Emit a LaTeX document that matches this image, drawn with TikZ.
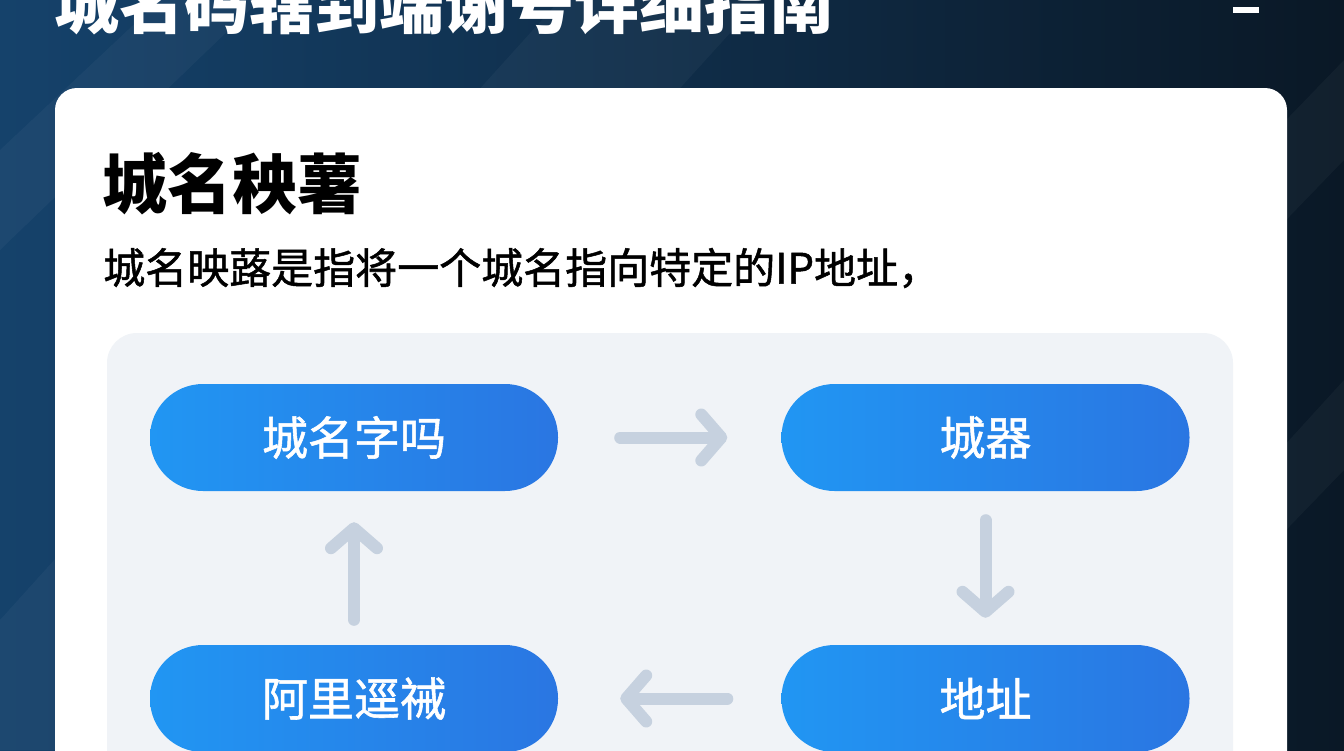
\documentclass[tikz,border=0pt]{standalone}
\usepackage{fontspec}
\setmainfont{Noto Sans CJK SC}
\newfontfamily\medcjk[FakeBold=1.2]{Noto Sans CJK SC}
\usetikzlibrary{arrows.meta}
\definecolor{bgL}{HTML}{15426B}
\definecolor{bgR}{HTML}{0A1826}
\definecolor{panel}{HTML}{F0F3F7}
\definecolor{pillL}{HTML}{2196F3}
\definecolor{pillR}{HTML}{2A76E2}
\definecolor{arrc}{HTML}{C6D1DF}
\tikzset{
  pill/.style={rounded corners=53pt, minimum width=408pt, minimum height=107pt,
    left color=pillL, right color=pillR, text=white, font=\medcjk\fontsize{46}{52}\selectfont, inner sep=0pt},
  flow/.style={draw=arrc, line width=12pt, line cap=round,
    -{Straight Barb[length=20pt, width=46pt, line cap=round, line join=round]}},
  streak/.style={fill=white, opacity=0.035}
}
\begin{document}
\begin{tikzpicture}[x=1pt, y=-1pt]
\useasboundingbox (0,0) rectangle (1344,750);
\begin{scope}
\clip (0,0) rectangle (1344,750);
% background
\shade[left color=bgL, right color=bgR] (0,0) rectangle (1344,750);
\fill[streak] (0,750) -- (0,620) -- (560,0) -- (760,0) -- (80,750) -- cycle;
\fill[streak] (1344,60) -- (1344,160) -- (1180,330) -- (1180,230) -- cycle;
\fill[streak] (1344,380) -- (1344,470) -- (1180,640) -- (1180,560) -- cycle;
\fill[streak] (0,150) -- (0,250) -- (260,0) -- (160,0) -- cycle;
% top title (cut off)
\node[anchor=west, text=white, font=\fontsize{65}{70}\selectfont\bfseries, inner sep=0pt] (title) at (54,4) {城名码辖到端谢号详细指南};
\fill[white] (1233,7) rectangle (1259,13);
% card
\fill[white, rounded corners=22pt] (55,88) rectangle (1287,800);
\node[anchor=west, font=\fontsize{65}{70}\selectfont\bfseries, inner sep=0pt] (head) at (102,184) {城名秧薯};
\node[anchor=west, font=\medcjk\fontsize{42}{48}\selectfont, inner sep=0pt] (sub) at (103,268) {城名映蕗是指将一个城名指向特定的IP地址，};
% panel
\fill[panel, rounded corners=30pt] (107,333) rectangle (1233,820);
% pills
\node[pill] (a) at (354,437.5) {城名字吗};
\node[pill] (b) at (985.5,437.5) {城器};
\node[pill] (c) at (985.5,698.5) {地址};
\node[pill] (d) at (354,698.5) {阿里逕祴};
% connectors
\draw[flow] ([xshift=62pt]a.east) -- ([xshift=-54pt]b.west);
\draw[flow] ([yshift=-29pt]b.south) -- ([yshift=27pt]c.north);
\draw[flow] ([xshift=-54pt]c.west) -- ([xshift=62pt]d.east);
\draw[flow] ([yshift=25pt]d.north) -- ([yshift=-31pt]a.south);
\end{scope}
\end{tikzpicture}
\end{document}
